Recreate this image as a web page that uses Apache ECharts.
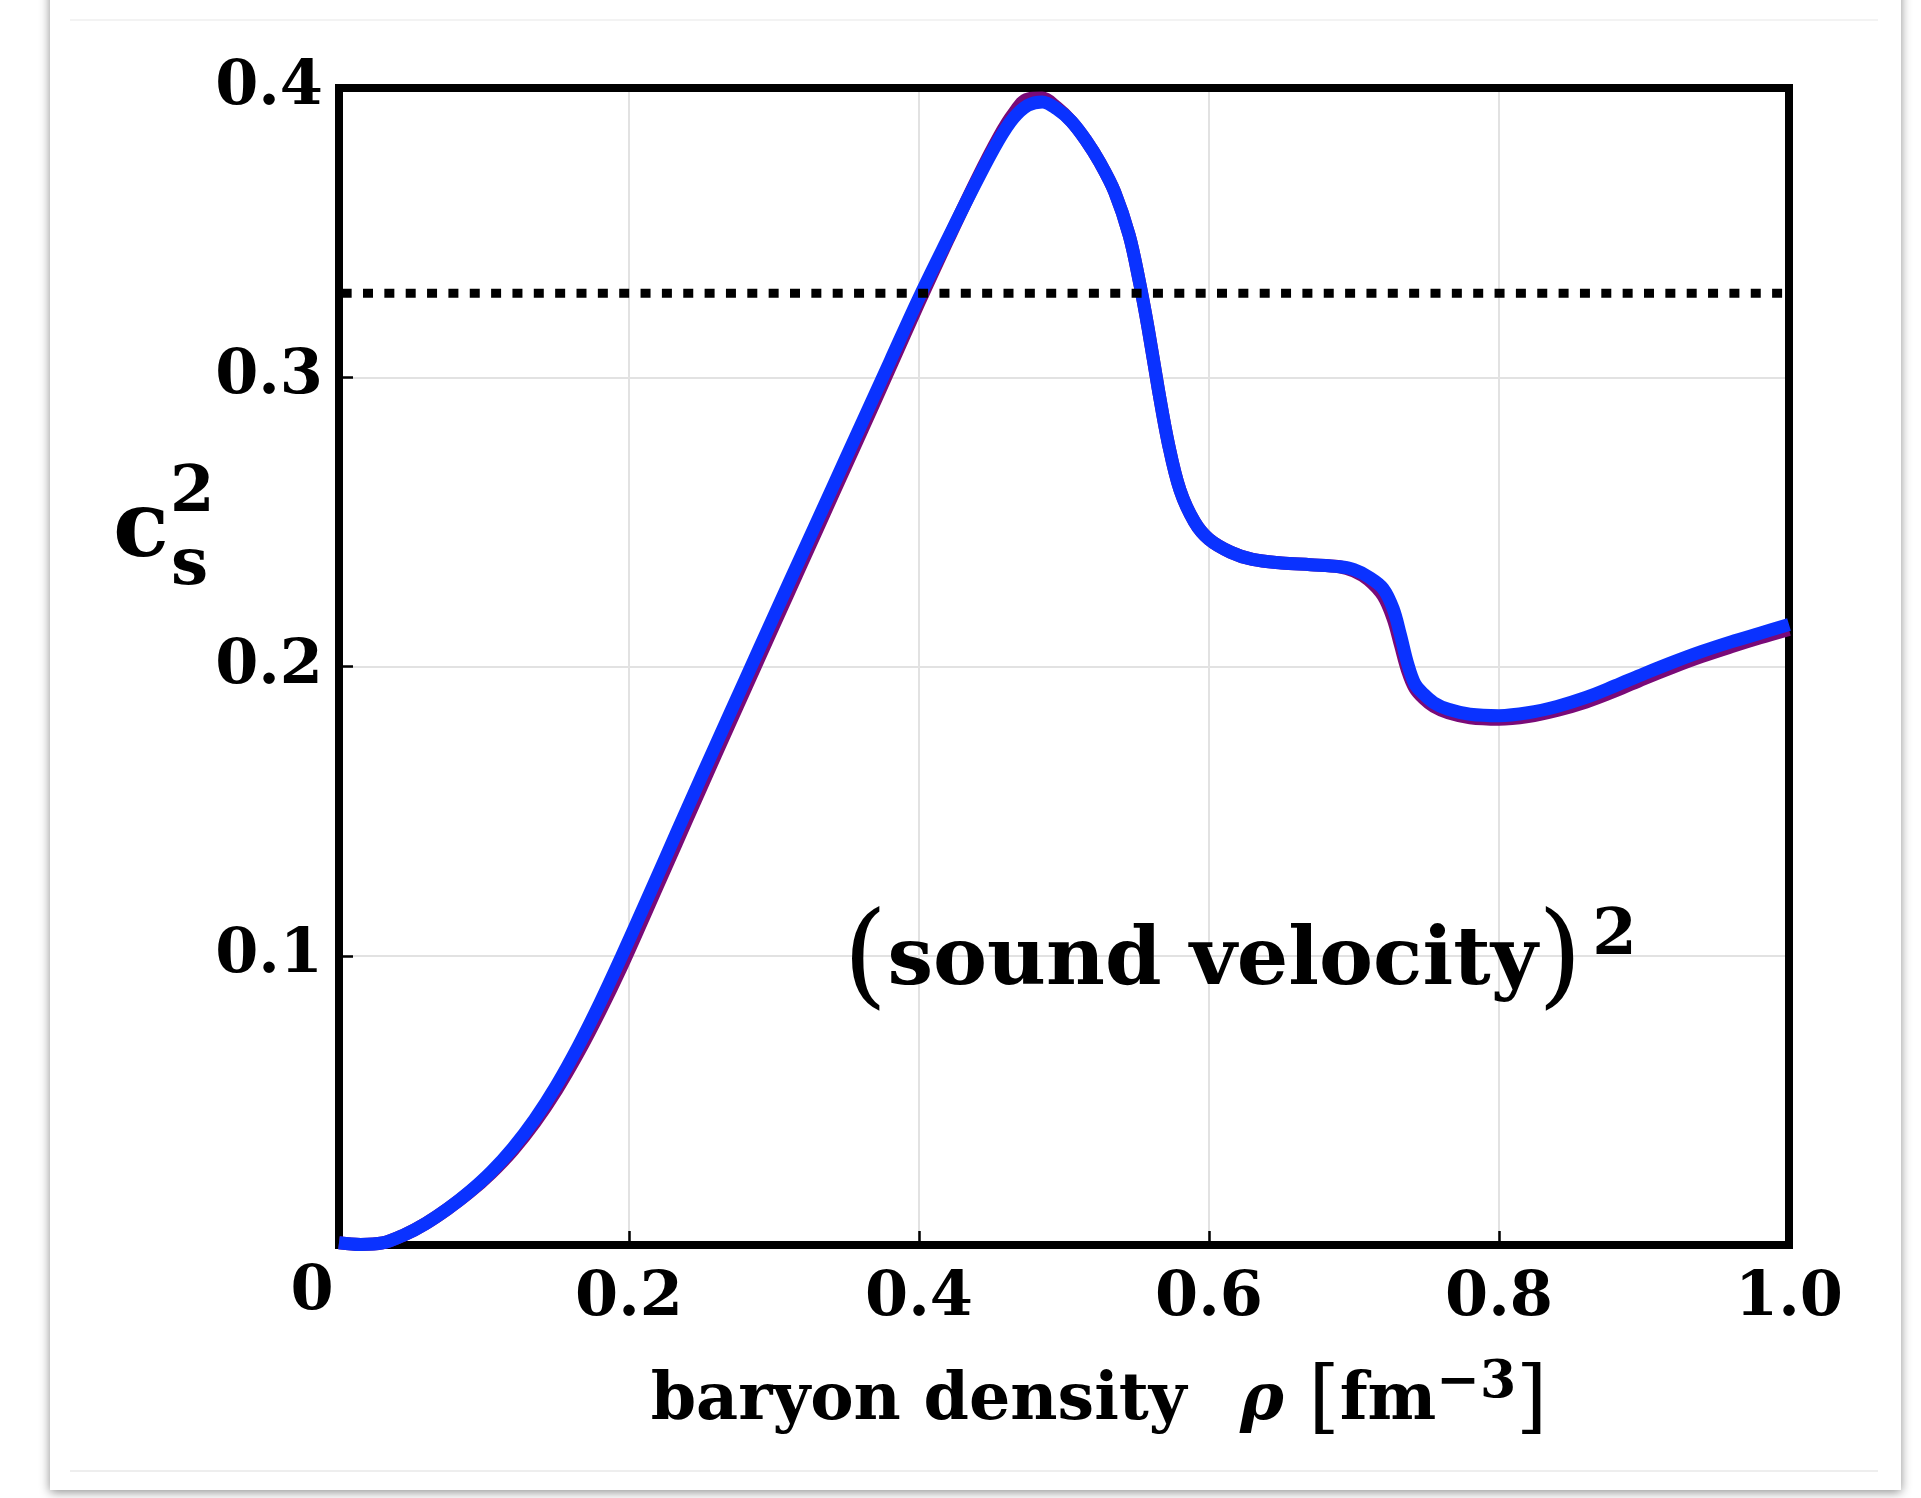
<!DOCTYPE html>
<html>
<head>
<meta charset="utf-8">
<script src="https://cdn.jsdelivr.net/npm/echarts@6/dist/echarts.min.js"></script>
<style>
html, body { margin: 0; padding: 0; background: #ffffff; }
#chart { width: 1921px; height: 1498px; }
</style>
</head>
<body>
<div id="chart"></div>
<script>
// baryon density grid [fm^-3]
const rho = [
  0.000, 0.015, 0.030, 0.045, 0.060, 0.075, 0.090, 0.105, 0.120, 0.135,
  0.150, 0.165, 0.180, 0.195, 0.210, 0.225, 0.240, 0.260, 0.280, 0.300,
  0.320, 0.340, 0.360, 0.380, 0.400, 0.420, 0.440, 0.455, 0.465, 0.475,
  0.485, 0.495, 0.505, 0.515, 0.525, 0.535, 0.545, 0.552, 0.558, 0.565,
  0.572, 0.580, 0.590, 0.600, 0.615, 0.630, 0.650, 0.670, 0.690, 0.700,
  0.710, 0.720, 0.727, 0.732, 0.737, 0.742, 0.748, 0.755, 0.765, 0.780,
  0.800, 0.820, 0.840, 0.860, 0.880, 0.900, 0.920, 0.940, 0.960, 0.980,
  1.000
];

// squared sound velocity c_s^2, upper (blue) curve
const cs2Blue = [
  0.0008, 0.0002, 0.0007, 0.0035, 0.0075, 0.0125, 0.0184, 0.0253, 0.0336, 0.0435,
  0.0552, 0.0687, 0.0837, 0.0999, 0.1167, 0.1337, 0.1507, 0.1731, 0.1953, 0.2175,
  0.2395, 0.2615, 0.2835, 0.3055, 0.3275, 0.3480, 0.3680, 0.3820, 0.3895, 0.3940,
  0.3952, 0.3928, 0.3885, 0.3820, 0.3740, 0.3640, 0.3490, 0.3330, 0.3170, 0.2960,
  0.2770, 0.2610, 0.2500, 0.2440, 0.2395, 0.2370, 0.2358, 0.2352, 0.2345, 0.2335,
  0.2310, 0.2270, 0.2200, 0.2110, 0.2010, 0.1940, 0.1905, 0.1875, 0.1852, 0.1835,
  0.1830, 0.1840, 0.1862, 0.1893, 0.1933, 0.1975, 0.2015, 0.2052, 0.2085, 0.2115,
  0.2145
];

// squared sound velocity c_s^2, lower (purple) curve
const cs2Red = [
  0.0008, 0.0002, 0.0007, 0.0035, 0.0075, 0.0125, 0.0182, 0.0249, 0.0328, 0.0423,
  0.0535, 0.0664, 0.0808, 0.0964, 0.1132, 0.1302, 0.1472, 0.1698, 0.1921, 0.2144,
  0.2366, 0.2588, 0.2810, 0.3033, 0.3258, 0.3475, 0.3685, 0.3830, 0.3910, 0.3962,
  0.3965, 0.3933, 0.3885, 0.3820, 0.3740, 0.3640, 0.3490, 0.3330, 0.3170, 0.2960,
  0.2770, 0.2610, 0.2500, 0.2440, 0.2395, 0.2370, 0.2358, 0.2352, 0.2345, 0.2330,
  0.2300, 0.2245, 0.2165, 0.2075, 0.1985, 0.1925, 0.1890, 0.1862, 0.1840, 0.1823,
  0.1818, 0.1827, 0.1848, 0.1877, 0.1915, 0.1958, 0.1998, 0.2035, 0.2068, 0.2099,
  0.2128
];

// horizontal reference level (dotted)
const refLevel = 0.329;

const xTickLabels = ['0', '0.2', '0.4', '0.6', '0.8', '1.0'];
const yTickLabels = ['', '0.1', '0.2', '0.3', '0.4'];

const SERIF = '"DejaVu Serif", "Liberation Serif", serif';

const chart = echarts.init(document.getElementById('chart'), null, { renderer: 'canvas' });

const blueData = rho.map((r, i) => [r, cs2Blue[i]]);
const redData = rho.map((r, i) => [r, cs2Red[i]]);

const option = {
  animation: false,
  backgroundColor: '#ffffff',
  grid: {
    left: 339, right: 132, top: 88, bottom: 253,
    show: true,
    borderColor: '#000000',
    borderWidth: 8,
    backgroundColor: 'transparent',
    z: 1
  },
  xAxis: {
    type: 'value',
    min: 0, max: 1, interval: 0.2,
    axisLine: { show: false },
    axisTick: { show: true, inside: true, length: 14, lineStyle: { color: '#000', width: 2.5 } },
    splitLine: { show: true, showMinLine: false, showMaxLine: false, lineStyle: { color: '#e2e2e2', width: 2 } },
    axisLabel: {
      margin: 23,
      formatter: (v) => {
        const i = Math.round(v / 0.2);
        return i === 0 ? '{zero|' + xTickLabels[i] + '}' : '{n|' + xTickLabels[i] + '}';
      },
      rich: {
        n: { fontFamily: SERIF, fontWeight: 'bold', fontSize: 62, lineHeight: 62, color: '#000' },
        zero: { fontFamily: SERIF, fontWeight: 'bold', fontSize: 62, lineHeight: 50, color: '#000', padding: [0, 54, 0, 0] }
      }
    },
    name: '{t|baryon density  }{rho|ρ}{t| }{br|[}{t|fm}{sup|−3}{br|]}',
    nameLocation: 'middle',
    nameGap: 112,
    nameTextStyle: {
      padding: [0, 0, 0, 70],
      rich: {
        t: { fontFamily: SERIF, fontWeight: 'bold', fontSize: 65, lineHeight: 90, color: '#000' },
        rho: { fontFamily: SERIF, fontStyle: 'italic', fontWeight: 'bold', fontSize: 66, lineHeight: 90, padding: [0, 2, 0, 8], color: '#000' },
        br: { fontFamily: SERIF, fontSize: 80, lineHeight: 90, color: '#000' },
        sup: { fontFamily: SERIF, fontWeight: 'bold', fontSize: 52, lineHeight: 52, verticalAlign: 'top', color: '#000' }
      }
    }
  },
  yAxis: {
    type: 'value',
    min: 0, max: 0.4, interval: 0.1,
    axisLine: { show: false },
    axisTick: { show: true, inside: true, length: 14, lineStyle: { color: '#000', width: 2.5 } },
    splitLine: { show: true, showMinLine: false, showMaxLine: false, lineStyle: { color: '#e2e2e2', width: 2 } },
    axisLabel: {
      margin: 16,
      fontFamily: SERIF, fontWeight: 'bold', fontSize: 62, color: '#000',
      formatter: (v) => yTickLabels[Math.round(v * 10)]
    }
  },
  series: [
    {
      name: 'lower', type: 'line', data: redData,
      smooth: 0.35, showSymbol: false, z: 2,
      lineStyle: { color: '#7a0a78', width: 13, cap: 'butt', join: 'round' }
    },
    {
      name: 'upper', type: 'line', data: blueData,
      smooth: 0.35, showSymbol: false, z: 3,
      lineStyle: { color: '#0a32ff', width: 13, cap: 'butt', join: 'round' }
    },
    {
      name: 'reference', type: 'line',
      data: [[0, refLevel], [1, refLevel]],
      showSymbol: false, z: 4,
      lineStyle: { color: '#000', width: 9, type: [10, 11.35], dashOffset: 18.7, cap: 'butt' }
    }
  ],
  graphic: [
    // card with soft drop shadow
    {
      type: 'rect', z: -10, silent: true,
      shape: { x: 50, y: -30, width: 1851, height: 1520 },
      style: { fill: '#ffffff', shadowBlur: 10, shadowColor: 'rgba(0,0,0,0.45)', shadowOffsetX: 0, shadowOffsetY: 2 }
    },
    { type: 'line', z: -9, silent: true, shape: { x1: 70, y1: 20, x2: 1878, y2: 20 }, style: { stroke: '#efefef', lineWidth: 1.5 } },
    { type: 'line', z: -9, silent: true, shape: { x1: 70, y1: 1471, x2: 1878, y2: 1471 }, style: { stroke: '#e8e8e8', lineWidth: 1.5 } },
    // y-axis name: c_s^2
    {
      type: 'text', z: 10, x: 113, y: 532,
      style: { text: 'c', font: 'bold 92px ' + SERIF, fill: '#000', align: 'left', verticalAlign: 'middle' }
    },
    {
      type: 'text', z: 10, x: 171, y: 567,
      style: { text: 's', font: 'bold 66px ' + SERIF, fill: '#000', align: 'left', verticalAlign: 'middle' }
    },
    {
      type: 'text', z: 10, x: 170, y: 494,
      style: { text: '2', font: 'bold 64px ' + SERIF, fill: '#000', align: 'left', verticalAlign: 'middle' }
    },
    // in-plot annotation
    {
      type: 'text', z: 10, x: 843, y: 905,
      style: {
        text: '{p|(}{m|sound velocity}{p|)}{sup|2}',
        align: 'left', verticalAlign: 'top',
        rich: {
          p: { fontFamily: SERIF, fontSize: 114, lineHeight: 116, fill: '#000' },
          m: { fontFamily: SERIF, fontWeight: 'bold', fontSize: 81, lineHeight: 116, fill: '#000' },
          sup: { fontFamily: SERIF, fontWeight: 'bold', fontSize: 64, lineHeight: 64, verticalAlign: 'top', padding: [0, 0, 0, 10], fill: '#000' }
        }
      }
    }
  ]
};

chart.setOption(option);
</script>
</body>
</html>
